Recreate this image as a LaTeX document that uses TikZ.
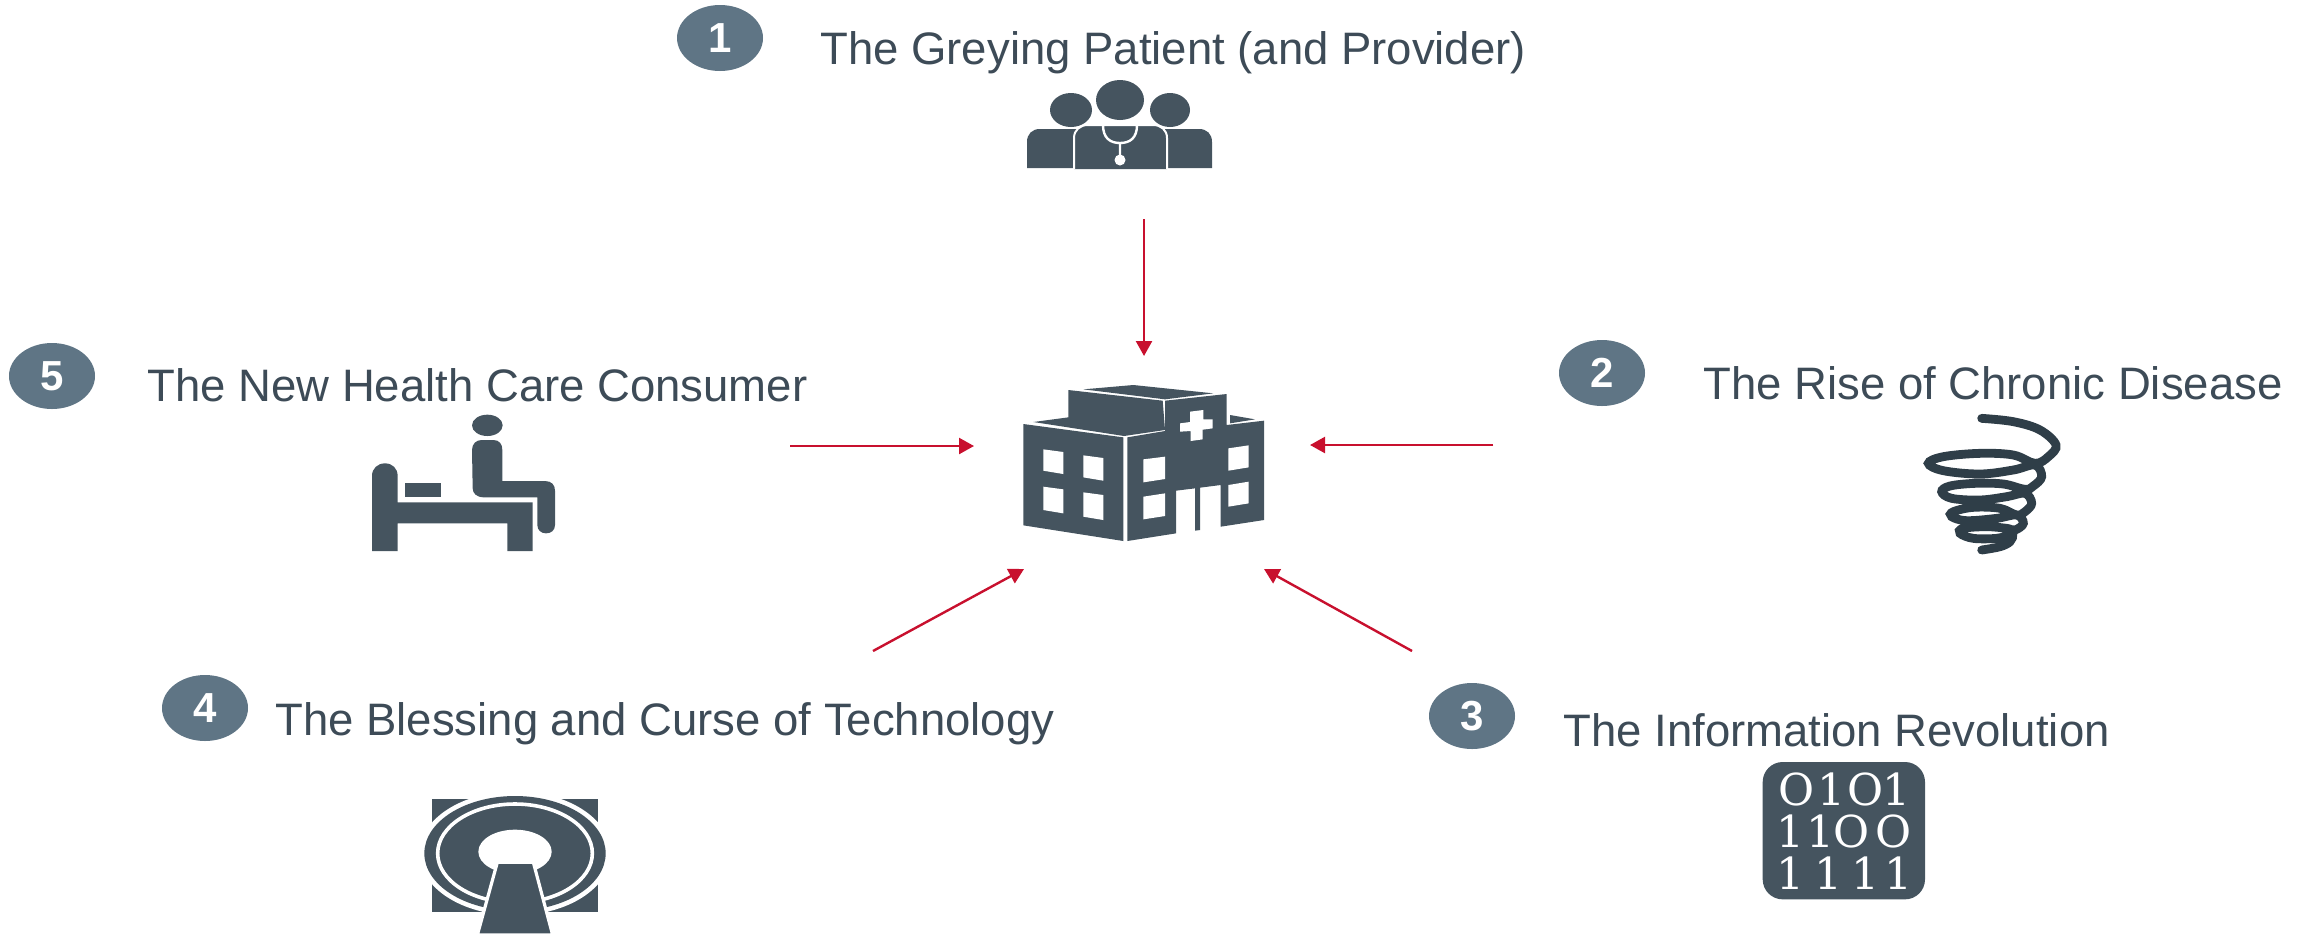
\documentclass[tikz,border=0pt]{standalone}
\usepackage{fontspec}
\setmainfont{Liberation Sans}
\newfontfamily\binaryfont{DejaVu Serif}
\usepackage{xcolor}
\usetikzlibrary{arrows.meta,chains,scopes,shapes.geometric}
\definecolor{slateicon}{HTML}{45545F}
\definecolor{slatetext}{HTML}{3D4B57}
\definecolor{slatebadge}{HTML}{5F7585}
\definecolor{slatecoil}{HTML}{2F3E48}
\definecolor{forcered}{HTML}{C8102E}
\tikzset{>={Triangle[length=7.5pt,width=8pt]},
         every join/.style={->,draw=forcered,fill=forcered,line width=1.2pt},
         crop/.style 2 args={shift={(#1,#2)},x=.16667pt,y=-.16667pt},
         icon/.style={fill=slateicon,draw=none},
         gap/.style={fill=white,draw=none},
         badge/.style={ellipse,fill=slatebadge,text=white,inner sep=0pt,minimum width=43pt,
                       minimum height=33pt,font=\fontsize{21}{21}\selectfont\bfseries},
         force/.style={anchor=base west,inner sep=0pt,text=slatetext,font=\fontsize{22.75}{23}\selectfont},
         digit/.style={text=white,inner sep=0pt,font=\binaryfont\fontsize{22}{22}\selectfont}}

\begin{document}
\begin{tikzpicture}[x=.5pt,y=-.5pt]
  \useasboundingbox (0,0) rectangle (2310,933);

  \node[badge] (badge1) at (720,38) {1};
  \node[badge] (badge2) at (1602,373) {2};
  \node[badge] (badge3) at (1472,716) {3};
  \node[badge] (badge4) at (205,708) {4};
  \node[badge] (badge5) at (52,376) {5};

  \node[force] (grey) at (820,64) {The Greying Patient (and Provider)};
  \node[force] (chronic) at (1703,399) {The Rise of Chronic Disease};
  \node[force] (info) at (1563,746) {The Information Revolution};
  \node[force] (tech) at (275,735) {The Blessing and Curse of Technology};
  \node[force] (consumer) at (147,401) {The New Health Care Consumer};

  % arrows into the hospital
  \coordinate (from1) at (1144,219);
  \coordinate (to1) at (1144,356);
  \coordinate (from2) at (1493,445);
  \coordinate (to2) at (1310,445);
  \coordinate (from3) at (1412,651);
  \coordinate (to3) at (1264,569);
  \coordinate (from4) at (873,651);
  \coordinate (to4) at (1024,569);
  \coordinate (from5) at (790,446);
  \coordinate (to5) at (974,446);
  { [start chain] \chainin (from1); \chainin (to1) [join]; }
  { [start chain] \chainin (from2); \chainin (to2) [join]; }
  { [start chain] \chainin (from3); \chainin (to3) [join]; }
  { [start chain] \chainin (from4); \chainin (to4) [join]; }
  { [start chain] \chainin (from5); \chainin (to5) [join]; }

  % hospital
  \begin{scope}[crop={980}{360}]
    \fill[icon] (130,192) -- (430,232) -- (430,543) -- (130,496) -- cycle;
    \fill[icon] (442,232) -- (555,213) -- (555,122) -- (740,102) -- (740,195) -- (852,182)
      -- (852,480) -- (722,500) -- (722,375) -- (660,383) -- (660,510) -- (645,512)
      -- (645,385) -- (588,392) -- (588,520) -- (442,543) -- cycle;
    \fill[icon] (160,186) -- (265,172) -- (265,90) -- (548,122) -- (555,210) -- (432,228) -- cycle;
    \fill[icon] (310,88) -- (460,75) -- (700,100) -- (555,118) -- cycle;
    \fill[icon] (750,165) -- (825,178) -- (750,190) -- cycle;
    \fill[gap] (190,268) -- (250,276) -- (250,342) -- (190,332) -- cycle;
    \fill[gap] (310,286) -- (370,294) -- (370,362) -- (310,352) -- cycle;
    \fill[gap] (190,380) -- (250,388) -- (250,460) -- (190,450) -- cycle;
    \fill[gap] (310,397) -- (370,405) -- (370,480) -- (310,470) -- cycle;
    \fill[gap] (490,298) -- (555,290) -- (555,357) -- (490,367) -- cycle;
    \fill[gap] (490,410) -- (555,400) -- (555,468) -- (490,478) -- cycle;
    \fill[gap] (745,265) -- (806,256) -- (806,322) -- (745,332) -- cycle;
    \fill[gap] (745,375) -- (806,365) -- (806,430) -- (745,440) -- cycle;
    \fill[gap] (630,155) -- (670,150) -- (670,178) -- (698,178) -- (698,205) -- (668,209)
      -- (668,238) -- (632,243) -- (632,213) -- (600,215) -- (600,190) -- (630,186) -- cycle;
  \end{scope}

  % doctors
  \fill[icon] (1071,110) ellipse (21 and 17);
  \fill[icon] (1170,110) ellipse (20 and 17);
  \fill[icon] (1120,100) ellipse (24 and 20);
  \fill[icon] (1027,168) -- (1027,142) .. controls (1027,134) and (1032,129) .. (1040,129)
    -- (1199,129) .. controls (1207,129) and (1212,134) .. (1212,142) -- (1212,168) -- cycle;
  \draw[fill=slateicon,draw=white,line width=1pt] (1074,169) -- (1074,138)
    .. controls (1074,130) and (1080,125) .. (1088,125) -- (1153,125)
    .. controls (1161,125) and (1167,130) .. (1167,138) -- (1167,169);
  \draw[white,line width=1.2pt] (1103,125) .. controls (1103,138) and (1110,143) .. (1120,143)
    .. controls (1130,143) and (1137,138) .. (1137,125) (1120,143) -- (1120,155);
  \fill[gap] (1120,160) circle (5.5);

  % bed
  \begin{scope}[crop={340}{400}]
    \fill[icon] (442,76) ellipse (46 and 32);
    \fill[icon] (396,150) .. controls (396,130) and (410,120) .. (425,120) -- (460,120)
      .. controls (478,120) and (487,132) .. (487,150) -- (487,243) -- (615,243)
      .. controls (635,243) and (645,255) .. (645,272) -- (645,375)
      .. controls (645,392) and (632,400) .. (618,400)
      .. controls (603,400) and (592,390) .. (592,375) -- (592,292) -- (432,292)
      .. controls (410,292) and (398,280) .. (398,265) -- cycle;
    \fill[icon] (195,250) rectangle (304,292);
    \fill[icon] (96,453) -- (96,228) .. controls (96,205) and (113,190) .. (135,190)
      .. controls (157,190) and (173,205) .. (173,228) -- (173,307) -- (578,307)
      -- (578,453) -- (502,453) -- (502,370) -- (173,370) -- (173,453) -- cycle;
  \end{scope}

  % coil
  \begin{scope}[crop={1900}{400}]
    \draw[slatecoil,line width=4.4pt,line cap=round] plot[smooth,tension=.6] coordinates {
      (245,55) (340,65) (420,90) (468,135) (445,170) (405,190) (340,165) (240,160) (130,170)
      (85,190) (130,212) (240,222) (340,210) (405,195) (425,230) (400,258) (375,268) (310,252)
      (225,250) (150,258) (125,275) (155,295) (240,300) (320,290) (375,280) (395,310) (375,335)
      (350,345) (300,325) (220,322) (160,335) (155,350) (200,362) (290,355) (350,345) (370,370)
      (345,390) (320,385) (260,380) (190,385) (180,400) (220,415) (290,415) (335,405) (330,425)
      (300,440) (245,450)};
  \end{scope}

  % scanner
  \begin{scope}[crop={400}{780}]
    \fill[icon] (97,57) rectangle (595,395);
    \fill[gap] (345,220) ellipse (287 and 186);
    \fill[icon] (345,220) ellipse (272 and 172);
    \draw[white,line width=1.8pt] (345,220) ellipse (232 and 148);
    \fill[gap] (345,215) ellipse (110 and 66);
    \draw[fill=slateicon,draw=white,line width=1.6pt] (292,247) -- (400,247) -- (458,465) -- (232,465) -- cycle;
    \fill[gap] (270,235) rectangle (420,247);
  \end{scope}

  % binary tile
  \begin{scope}[crop={1740}{750}]
    \fill[icon,rounded corners=10pt] (68,36) rectangle (555,448);
    \foreach \x/\y/\d/\n in {170/118/O/a, 275/118/1/b, 375/118/O/c, 470/118/1/d,
                             150/243/1/e, 240/243/1/f, 335/243/O/g, 460/243/O/h,
                             150/370/1/i, 265/370/1/j, 375/370/1/k, 475/370/1/l}
      \node[digit] (bit\n) at (\x,\y) {\d};
  \end{scope}
\end{tikzpicture}
\end{document}
